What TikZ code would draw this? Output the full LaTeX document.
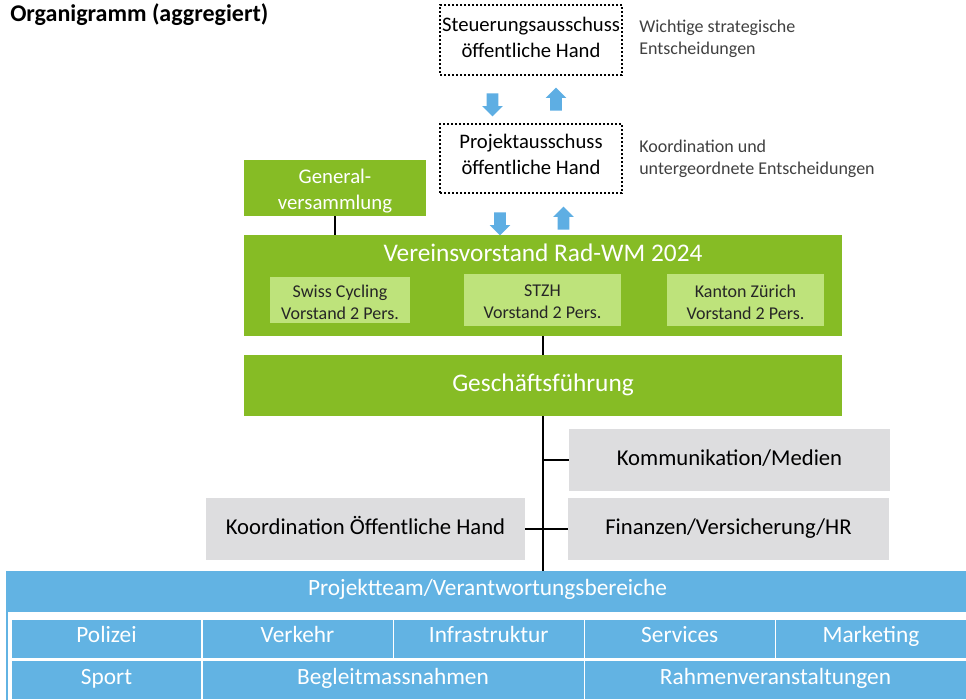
\documentclass[tikz,border=0pt]{standalone}
\usepackage{fontspec}
\setmainfont{Carlito}
\usetikzlibrary{shapes.arrows}
\definecolor{vgreen}{HTML}{86BC25}
\definecolor{lgreen}{HTML}{BEE37B}
\definecolor{boxgray}{HTML}{DDDDDF}
\definecolor{pblue}{HTML}{62B3E3}
\definecolor{ablue}{HTML}{5EAEE3}
\definecolor{annot}{HTML}{404040}
\begin{document}
\begin{tikzpicture}[x=0.75pt,y=-0.75pt,
  sz/.style 2 args={minimum width=#1*0.75pt, minimum height=#2*0.75pt},
  box/.style={inner sep=0pt, align=center},
  txt/.style={inner sep=0pt, align=center},
  dotbox/.style={box, draw=black, line width=1.5pt, dash pattern=on 1.5pt off 1.5pt},
  dottext/.style={txt, font=\fontsize{15.5}{19.5}\selectfont},
  greenbox/.style={box, fill=vgreen, text=white},
  subbox/.style={box, fill=lgreen},
  subtext/.style={txt, text=black!85, font=\fontsize{13.5}{16.5}\selectfont},
  graybox/.style={box, fill=boxgray, text=black, font=\fontsize{17}{20}\selectfont, text height=11.5pt, text depth=2.5pt},
  cell/.style={box, fill=pblue, text=white, font=\fontsize{17.5}{20}\selectfont, text height=11pt, text depth=5pt},
  annotext/.style={inner sep=0pt, anchor=base west, align=left, text=annot, font=\fontsize{13.5}{16.5}\selectfont},
  blockarrow/.style={single arrow, fill=ablue, inner xsep=0pt, inner ysep=5.5*0.75pt, minimum height=23*0.75pt, single arrow head extend=4.5*0.75pt},
  conn/.style={line width=1.5pt, black}
]
\clip (0,0) rectangle (966,699);

% title
\node[anchor=base west, inner sep=0pt, font=\bfseries\fontsize{18}{22}\selectfont] (title) at (10,21.5) {Organigramm (aggregiert)};

% committees
\node[dotbox, sz={182}{70}] (sa) at (531,40) {};
\node[dottext] (satext) at (531,37) {Steuerungsausschuss\\öffentliche Hand};
\node[dotbox, sz={182}{69}] (pa) at (531,158.5) {};
\node[dottext] (patext) at (531,154) {Projektausschuss\\öffentliche Hand};
\node[annotext] (sanote) at (639,54.7) {Wichtige strategische\\Entscheidungen};
\node[annotext] (panote) at (639,174) {Koordination und\\untergeordnete Entscheidungen};

% block arrows
\node[blockarrow, rotate=-90] (a1) at (492.5,102) {};
\node[blockarrow, rotate=90] (a2) at (556,102) {};
\node[blockarrow, rotate=-90] (a3) at (500,221) {};
\node[blockarrow, rotate=90] (a4) at (563.5,221) {};

% green boxes
\node[greenbox, sz={182}{56}] (gv) at (335,188) {};
\node[txt, text=white, font=\fontsize{15.6}{19}\selectfont] (gvtext) at (335,191) {General-\\versammlung};
\node[greenbox, sz={598}{101}] (vv) at (543,285.5) {};
\node[anchor=base, inner sep=0pt, text=white, font=\fontsize{19}{22}\selectfont] (vvtitle) at (543,261) {Vereinsvorstand Rad-WM 2024};
\node[subbox, sz={140}{45.5}] (sc) at (340,299.75) {};
\node[subtext] (sctext) at (340,302) {Swiss Cycling\\Vorstand 2 Pers.};
\node[subbox, sz={157}{51.5}] (stzh) at (542.5,299.75) {};
\node[subtext] (stzhtext) at (542.5,302) {STZH\\Vorstand 2 Pers.};
\node[subbox, sz={157}{51.5}] (kz) at (745.5,299.75) {};
\node[subtext] (kztext) at (745.5,302) {Kanton Zürich\\Vorstand 2 Pers.};
\node[greenbox, sz={598}{61}, font=\fontsize{19}{22}\selectfont, text height=12.5pt, text depth=3.5pt] (gf) at (543,385.5) {Geschäftsführung};

% gray boxes
\node[graybox, sz={321}{61.5}] (km) at (729.5,459.75) {Kommunikation/Medien};
\node[graybox, sz={321}{61.5}] (fi) at (728.5,528.75) {Finanzen/Versicherung/HR};
\node[graybox, sz={319}{61.5}] (ko) at (365.5,528.75) {Koordination Öffentliche Hand};

% project team
\node[box, sz={968}{138.5}, draw=pblue, line width=1.5pt, fill=white] (pt) at (491,640.75) {};
\node[cell, sz={961}{40}] (pth) at (487.5,591.5) {Projektteam/Verantwortungsbereiche};
\node[cell, sz={189}{37.5}] (c1) at (106.5,638.75) {Polizei};
\node[cell, sz={190}{37.5}] (c2) at (297.5,638.75) {Verkehr};
\node[cell, sz={189.5}{37.5}] (c3) at (488.75,638.75) {Infrastruktur};
\node[cell, sz={189.5}{37.5}] (c4) at (679.75,638.75) {Services};
\node[cell, sz={190}{37.5}] (c5) at (871,638.75) {Marketing};
\node[cell, sz={189}{38}] (c6) at (106.5,680) {Sport};
\node[cell, sz={381}{38}] (c7) at (393,680) {Begleitmassnahmen};
\node[cell, sz={381}{38}] (c8) at (775.5,680) {Rahmenveranstaltungen};

% connectors
\draw[conn] (gv.south) -- (gv.south |- vv.north);
\draw[conn] (vv.south) -- (gf.north);
\draw[conn] (gf.south) -- (gf.south |- pt.north);
\draw[conn] (km.west) -- (km.west -| gf.south);
\draw[conn] (ko.east) -- (fi.west);
\end{tikzpicture}
\end{document}
